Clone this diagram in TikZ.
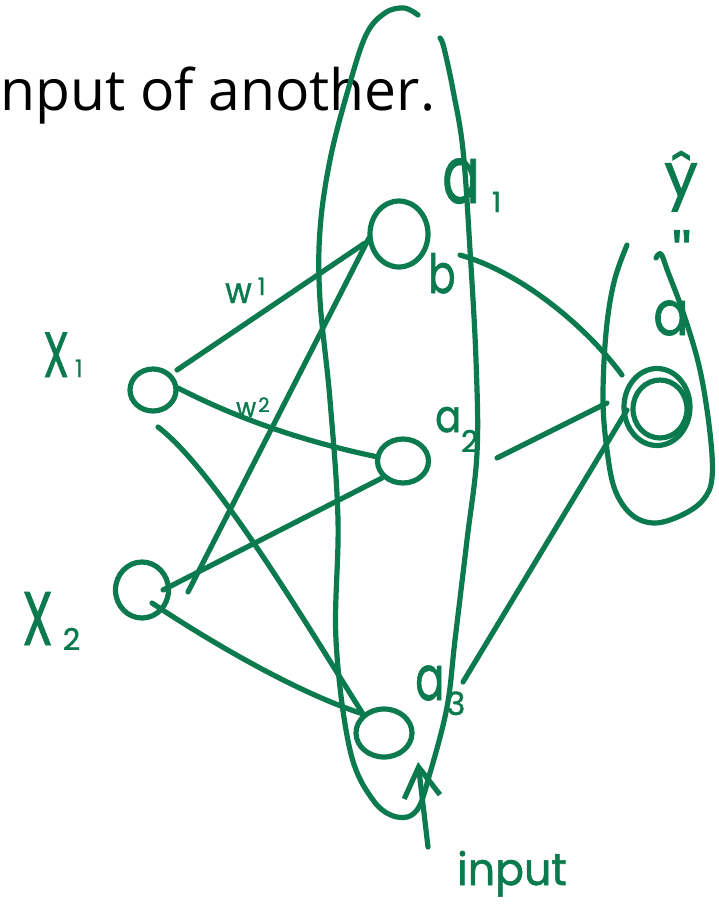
\documentclass[tikz,border=0pt]{standalone}
\usepackage{fontspec}
\setmainfont{Open Sans}
\newfontfamily\handfont{Poppins}[FakeBold=1.2]
\usepackage{tikz}
\usetikzlibrary{arrows.meta,calc,shapes.geometric}
\definecolor{inkgreen}{HTML}{0B7A4E}
\newcommand{\fs}[1]{\fontsize{#1}{#1}\selectfont}
\newcommand{\hw}[3]{{\fs{#1}\scalebox{#2}[1]{#3}}}
\newcommand{\hx}[3]{\raisebox{#2}{\fs{#1}#3}}
\tikzset{
  ink/.style    = {draw=inkgreen, line width=5.2pt, line cap=round,
                   line join=round},
  neuron/.style = {ink, ellipse, inner sep=0pt},
  wire/.style   = {ink},
  hand/.style   = {text=inkgreen, font=\handfont, inner sep=0pt,
                   anchor=base west},
  slide/.style  = {text=black, inner sep=0pt, anchor=base west},
}

\begin{document}
\begin{tikzpicture}[x=1pt,y=-1pt]
  \path[use as bounding box, fill=white] (0,0) rectangle (719,914);

  % ---------- slide text -------------------------------------------------
  \node[slide, font=\fs{57}] (slidetxt) at (0,110) {nput of another.};

  % ---------- units --------------------------------------------------------
  \node[neuron, minimum width=46pt, minimum height=42pt] (x1)  at (153,390) {};
  \node[neuron, minimum width=53pt, minimum height=56pt] (x2)  at (142,590) {};
  \node[neuron, minimum width=58pt, minimum height=66pt] (h1)  at (399,234) {};
  \node[neuron, minimum width=51pt, minimum height=44pt] (h2)  at (403,461) {};
  \node[neuron, minimum width=56pt, minimum height=48pt] (h3)  at (384,733) {};
  \node[neuron, minimum width=66pt, minimum height=77pt] (out) at (657,407) {};
  \draw[ink] ($(out.center)+(3,2)$) ellipse (27 and 29);

  % ---------- labels -------------------------------------------------------
  \node[hand] (lx1) at (43,377) {\hw{64}{0.65}{X}\kern6pt\hx{24}{0pt}{1}};
  \node[hand] (lx2) at (22,645) {\hw{76}{0.65}{X}\kern10pt\hx{30}{-5pt}{2}};
  \node[hand] (la1) at (442,203) {\hw{80}{0.7}{a}\kern12pt\hx{28}{-9pt}{1}};
  \node[hand] (lb)  at (428,293) {\hw{54}{0.75}{b}};
  \node[hand] (la2) at (435,432) {\hw{45}{0.85}{a}\hx{30}{-20pt}{2}};
  \node[hand] (la3) at (415,700) {\hw{62}{0.7}{a}\kern2pt\hx{32}{-15pt}{3}};
  \node[hand] (lw1) at (225,303) {\hw{36}{0.9}{w}\kern6pt\hx{24}{8pt}{1}};
  \node[hand] (lw2) at (236,417) {\hw{27}{0.9}{w}\kern2pt\hx{20}{5pt}{2}};
  \node[hand] (lyhat) at (664,196) {\hw{60}{1}{ŷ}};
  \node[hand] (ltick) at (672,278) {\hw{60}{1}{''}};
  \node[hand] (laout) at (653,335) {\hw{62}{0.85}{a}};
  \node[hand] (linput) at (457,885) {\hw{45}{0.95}{input}};

  % ---------- layer outlines -----------------------------------------------
  \draw[ink] plot[smooth, tension=0.6] coordinates {
    (418,15) (404,8) (385,13) (366,35) (348,90) (330,160) (320,230)
    (320,300) (330,400) (338,520) (336,640) (350,750) (373,800) (397,817)
    (417,810) (430,773) (447,707) (455,640) (467,540) (477,453) (476,360)
    (470,250) (463,150) (453,90) (444,48) (440,38)};
  \draw[ink] plot[smooth, tension=0.6] coordinates {
    (627,245) (614,282) (606,333) (603,400) (607,450) (615,490) (632,515)
    (655,523) (682,515) (703,500) (712,478) (710,433) (700,370) (684,315)
    (668,272) (661,254) (656,258)};

  % ---------- connectors ---------------------------------------------------
  \draw[wire] ($(x1.center)+(24,-20)$) -- ($(h1.center)+(-34,9)$);
  \draw[wire] ($(x1.center)+(25,-2)$)
      .. controls +(72,37) and +(-58,-12) .. ($(h2.center)+(-25,-4)$);
  \draw[wire] ($(x1.center)+(5,37)$)
      .. controls +(57,43) and +(-53,-84) .. ($(h3.center)+(-21,-19)$);
  \draw[wire] ($(x2.center)+(46,2)$) -- ($(h1.center)+(-30,4)$);
  \draw[wire] ($(x2.center)+(21,0)$) -- ($(h2.center)+(-21,17)$);
  \draw[wire] ($(x2.center)+(10,13)$)
      .. controls +(48,32) and +(-73,-24) .. ($(h3.center)+(-21,-19)$);
  \draw[wire] ($(h1.center)+(61,21)$)
      .. controls +(60,17) and +(-37,-50) .. ($(out.center)+(-35,-32)$);
  \draw[wire] ($(h2.center)+(94,-3)$) -- ($(out.center)+(-50,-4)$);
  \draw[wire] ($(h3.center)+(79,-51)$) -- ($(out.center)+(-30,3)$);

  % input arrow
  \coordinate (inbase) at (428,847);
  \coordinate (intip)  at (418,762);
  \draw[wire, -{Straight Barb[length=30pt,width=36pt]}] (inbase) -- (intip);

\end{tikzpicture}
\end{document}
